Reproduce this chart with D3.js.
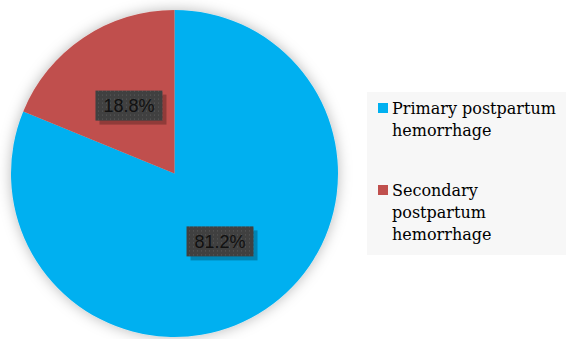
<!DOCTYPE html>
<html>
<head>
<meta charset="utf-8">
<script src="https://cdn.jsdelivr.net/npm/d3@7"></script>
<style>
  body { margin: 0; background: #fff; }
  svg { display: block; }
</style>
</head>
<body>
<svg width="566" height="339"></svg>
<script>
// Data
var categories = ["Primary postpartum hemorrhage", "Secondary postpartum hemorrhage"];
var legendLines = [["Primary postpartum", "hemorrhage"], ["Secondary", "postpartum", "hemorrhage"]];
var values = [81.2, 18.8];
var colors = ["#00b0f0", "#c0504d"];

var svg = d3.select("svg");
var cx = 174.5, cy = 173.5, radius = 163.5;

var defs = svg.append("defs");

// soft shadow round the pie
var f = defs.append("filter").attr("id", "glow")
  .attr("x", "-20%").attr("y", "-20%").attr("width", "140%").attr("height", "140%");
f.append("feGaussianBlur").attr("in", "SourceAlpha").attr("stdDeviation", 7).attr("result", "b");
f.append("feFlood").attr("flood-color", "#000").attr("flood-opacity", 0.28);
f.append("feComposite").attr("in2", "b").attr("operator", "in").attr("result", "s");
var fm = f.append("feMerge");
fm.append("feMergeNode").attr("in", "s");
fm.append("feMergeNode").attr("in", "SourceGraphic");

// dotted label background
var pat = defs.append("pattern").attr("id", "dots")
  .attr("width", 4).attr("height", 4).attr("patternUnits", "userSpaceOnUse");
pat.append("rect").attr("width", 4).attr("height", 4).attr("fill", "#404040");
pat.append("rect").attr("x", 1).attr("y", 1).attr("width", 1).attr("height", 1).attr("fill", "#5c5c5c");

var pie = d3.pie().sort(null).value(function(d) { return d; });
var arc = d3.arc().innerRadius(0).outerRadius(radius);
var labelArc = d3.arc().innerRadius(radius * 0.5).outerRadius(radius * 0.5);

var g = svg.append("g").attr("transform", "translate(" + cx + "," + cy + ")");

g.append("g").attr("filter", "url(#glow)")
  .selectAll("path")
  .data(pie(values))
  .enter()
  .append("path")
    .attr("d", arc)
    .attr("fill", function(d, i) { return colors[i]; });

// labels
var lab = g.selectAll(".lab")
  .data(pie(values))
  .enter()
  .append("g")
    .attr("class", "lab")
    .attr("transform", function(d) { return "translate(" + labelArc.centroid(d) + ")"; });

var bw = 67, bh = 30;
lab.append("rect")
  .attr("x", -bw / 2 + 4).attr("y", -bh / 2 + 4)
  .attr("width", bw).attr("height", bh)
  .attr("fill", "#000").attr("opacity", 0.25);
lab.append("rect")
  .attr("x", -bw / 2).attr("y", -bh / 2)
  .attr("width", bw).attr("height", bh)
  .attr("fill", "url(#dots)");
lab.append("text")
  .attr("text-anchor", "middle")
  .attr("dy", "0.36em")
  .attr("font-family", "Liberation Sans, Arial, sans-serif")
  .attr("font-size", 18)
  .attr("fill", "#111")
  .text(function(d) { return d.value.toFixed(1) + "%"; });

// legend
var legend = svg.append("g");
legend.append("rect")
  .attr("x", 367).attr("y", 92).attr("width", 199).attr("height", 163)
  .attr("fill", "#f7f7f7");

var itemY = [103, 185];
var item = legend.selectAll(".item")
  .data(categories)
  .enter()
  .append("g")
    .attr("class", "item")
    .attr("transform", function(d, i) { return "translate(378," + itemY[i] + ")"; });

item.append("rect")
  .attr("width", 10).attr("height", 10)
  .attr("fill", function(d, i) { return colors[i]; });

item.append("text")
  .attr("x", 14)
  .attr("font-family", "DejaVu Serif, serif")
  .attr("font-size", 16)
  .attr("fill", "#000")
  .selectAll("tspan")
  .data(function(d, i) { return legendLines[i]; })
  .enter()
  .append("tspan")
    .attr("x", 14)
    .attr("y", function(d, j) { return 11 + j * 22; })
    .text(function(d) { return d; });
</script>
</body>
</html>
